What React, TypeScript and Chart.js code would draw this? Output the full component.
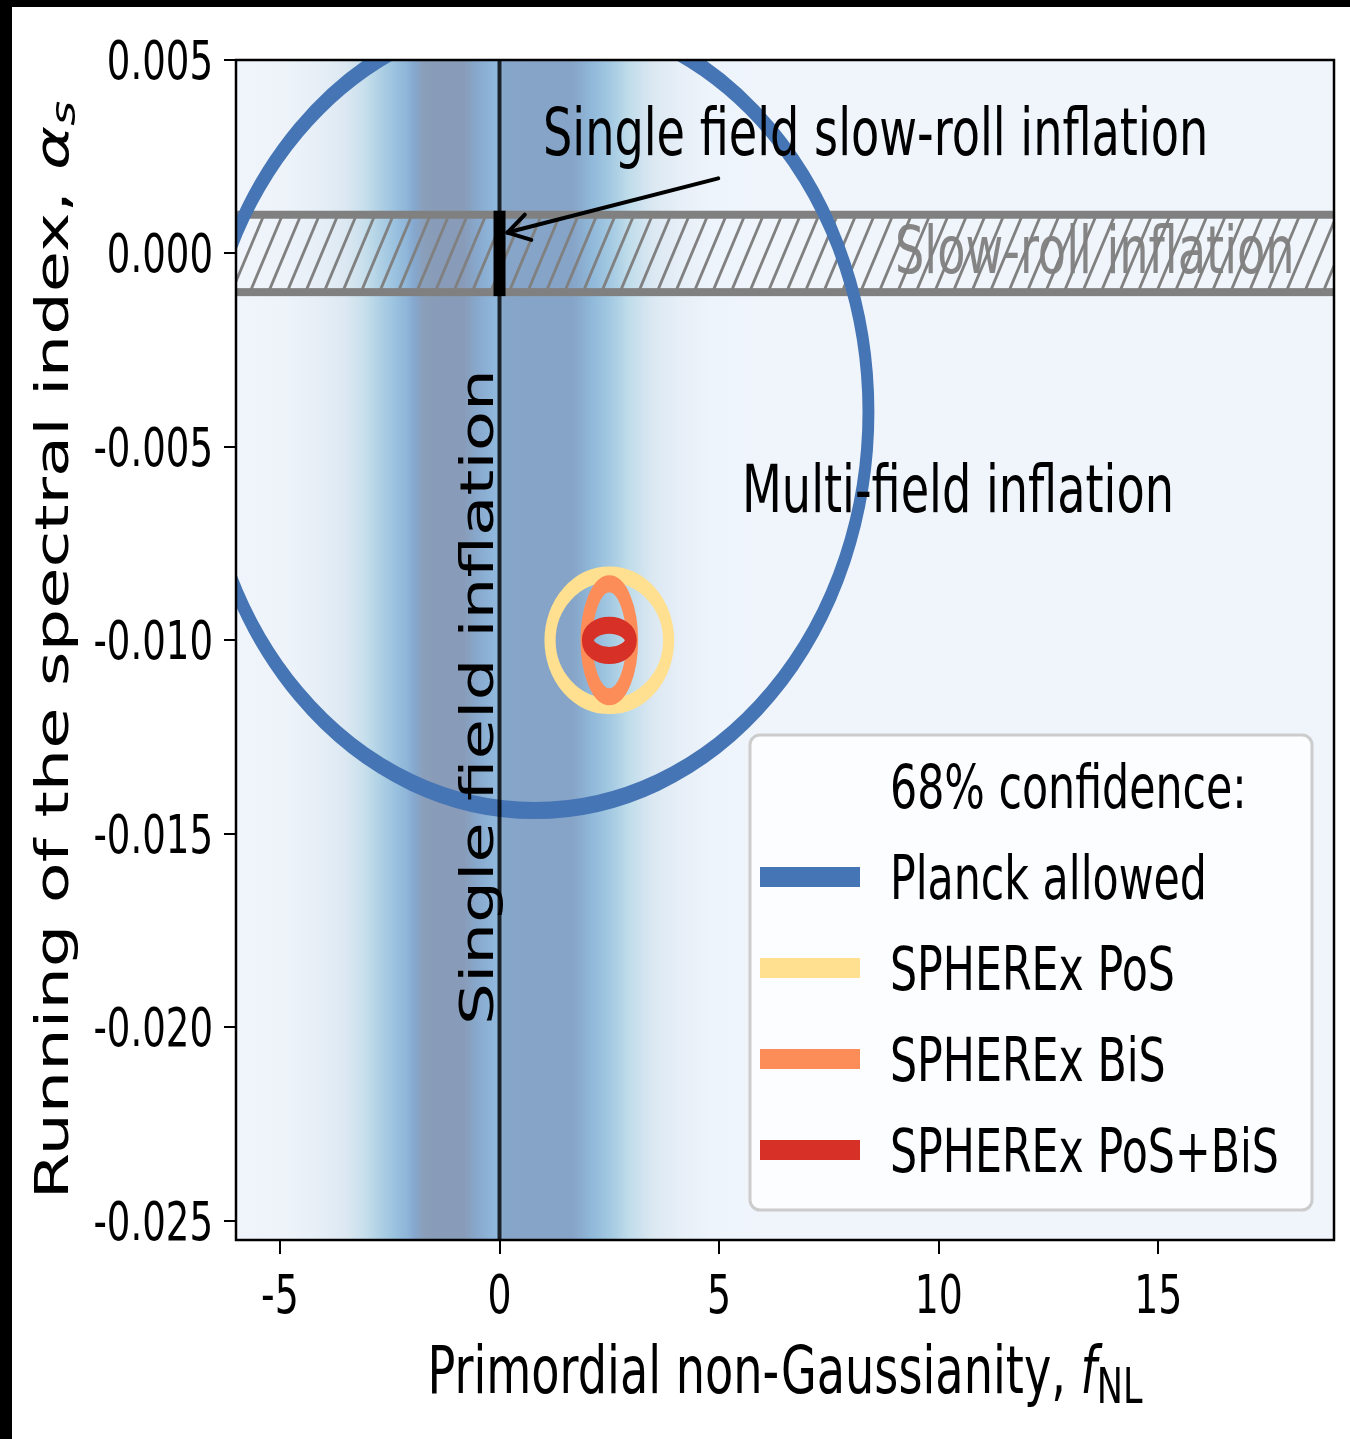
import React, { useEffect, useRef } from "react";
import { Chart, registerables } from "chart.js";

Chart.register(...registerables);

// ---------- data ----------
const xTicks = [-5, 0, 5, 10, 15];
const yTicks = [0.005, 0.0, -0.005, -0.01, -0.015, -0.02, -0.025];

const contourLabels = ["Planck allowed", "SPHEREx PoS", "SPHEREx BiS", "SPHEREx PoS+BiS"];
const centerFNL = [0.8, 2.5, 2.5, 2.5];
const centerAlpha = [-0.0041, -0.01, -0.01, -0.01];
const semiFNL = [7.6, 1.35, 0.52, 0.49];
const semiAlpha = [0.0103, 0.0017, 0.00146, 0.00039];
const contourColors = ["#4575b4", "#fee090", "#fc8d59", "#d73027"];

const slowRollBand = [-0.001, 0.001];

// background fNL likelihood shading (fNL position, colour)
const densityFNL = [-6, -4.84, -3.93, -3.48, -3.09, -2.8, -2.41, -2.11, -1.95, -1.73, -1.43, -0.82, -0.52, -0.14, 0.0, 0.09, 0.66, 1.66, 2.11, 2.57, 2.93, 3.48, 4.07, 4.84, 5.93, 19];
const densityColor = ["#f0f5fc", "#eef3fa", "#e4edf6", "#dbe7f1", "#c8e0ec", "#b4d4e6", "#9cc3e0", "#8fb5d8", "#85a8cf", "#8a9fba", "#889bb8", "#889bb8", "#87a8cc", "#8fb7db", "#90b8dc", "#86a6c9", "#86a4c7", "#86a4c7", "#90b9da", "#a6cbe3", "#bfdcea", "#dbe8f2", "#e6eef7", "#eef4fb", "#f0f5fc", "#f0f5fc"];

// ---------- styling ----------
const SQ = 0.7; // horizontal squeeze of the original figure
const FAM = "'DejaVu Sans', sans-serif";

type Part = { t: string; size: number; italic?: boolean; shift?: number };

function drawParts(ctx: CanvasRenderingContext2D, parts: Part[], x: number, y: number, align: "left" | "center" | "right", color: string, rotate = false) {
  ctx.save();
  ctx.translate(x, y);
  ctx.scale(SQ, 1);
  if (rotate) ctx.rotate(-Math.PI / 2);
  ctx.fillStyle = color;
  ctx.textBaseline = "alphabetic";
  ctx.textAlign = "left";
  const widths = parts.map((p) => {
    ctx.font = `${p.italic ? "italic " : ""}${p.size}px ${FAM}`;
    return ctx.measureText(p.t).width;
  });
  const total = widths.reduce((a, b) => a + b, 0);
  let cx = align === "left" ? 0 : align === "center" ? -total / 2 : -total;
  parts.forEach((p, i) => {
    ctx.font = `${p.italic ? "italic " : ""}${p.size}px ${FAM}`;
    ctx.fillText(p.t, cx, p.shift || 0);
    cx += widths[i];
  });
  ctx.restore();
}

function drawText(ctx: CanvasRenderingContext2D, t: string, x: number, y: number, size: number, align: "left" | "center" | "right", color = "#000", rotate = false) {
  drawParts(ctx, [{ t, size }], x, y, align, color, rotate);
}

const drawPlugin = {
  id: "figureDrawing",
  beforeDraw(chart: any) {
    const { ctx, chartArea: a, scales } = chart;
    const x = scales.x;
    ctx.save();
    ctx.fillStyle = "#ffffff";
    ctx.fillRect(0, 0, chart.width, chart.height);
    ctx.fillStyle = "#000000";
    ctx.fillRect(0, 0, chart.width, 7);
    ctx.fillRect(0, 0, 12, chart.height);
    const g = ctx.createLinearGradient(a.left, 0, a.right, 0);
    densityFNL.forEach((v, i) => {
      const t = (x.getPixelForValue(v) - a.left) / (a.right - a.left);
      g.addColorStop(Math.min(1, Math.max(0, t)), densityColor[i]);
    });
    ctx.fillStyle = g;
    ctx.fillRect(a.left, a.top, a.right - a.left, a.bottom - a.top);
    ctx.restore();
  },
  afterDatasetsDraw(chart: any) {
    const { ctx, chartArea: a, scales } = chart;
    const x = scales.x;
    const y = scales.y;
    ctx.save();
    ctx.beginPath();
    ctx.rect(a.left, a.top, a.right - a.left, a.bottom - a.top);
    ctx.clip();

    // slow-roll band
    const yTop = y.getPixelForValue(slowRollBand[1]);
    const yBot = y.getPixelForValue(slowRollBand[0]);
    drawText(ctx, "Slow-roll inflation", 895, 273, 66, "left", "#858585");
    ctx.save();
    ctx.beginPath();
    ctx.rect(a.left, yTop, a.right - a.left, yBot - yTop);
    ctx.clip();
    ctx.strokeStyle = "#808080";
    ctx.lineWidth = 2.8;
    const run = (yBot - yTop) * 0.42;
    for (let px = a.left - 60; px < a.right + 60; px += 18.5) {
      ctx.beginPath();
      ctx.moveTo(px, yBot);
      ctx.lineTo(px + run, yTop);
      ctx.stroke();
    }
    ctx.restore();
    ctx.fillStyle = "#808080";
    ctx.fillRect(a.left, yTop - 4, a.right - a.left, 8);
    ctx.fillRect(a.left, yBot - 4, a.right - a.left, 8);

    // contours
    const lws = [17, 16, 17, 17];
    const drawEllipse = (i: number) => {
      const cx = x.getPixelForValue(centerFNL[i]);
      const cy = y.getPixelForValue(centerAlpha[i]);
      const rx = Math.abs(x.getPixelForValue(centerFNL[i] + semiFNL[i]) - cx);
      const ry = Math.abs(y.getPixelForValue(centerAlpha[i] + semiAlpha[i]) - cy);
      ctx.save();
      ctx.translate(cx, cy);
      ctx.scale(SQ, 1);
      ctx.beginPath();
      ctx.ellipse(0, 0, rx / SQ, ry, 0, 0, Math.PI * 2);
      ctx.lineWidth = lws[i];
      ctx.strokeStyle = contourColors[i];
      ctx.stroke();
      ctx.restore();
    };
    drawEllipse(0);

    // single field line
    const x0 = x.getPixelForValue(0);
    ctx.strokeStyle = "rgba(0,0,0,0.82)";
    ctx.lineWidth = 4;
    ctx.beginPath();
    ctx.moveTo(x0, a.top);
    ctx.lineTo(x0, a.bottom);
    ctx.stroke();
    ctx.fillStyle = "#000";
    ctx.fillRect(x0 - 6, yTop - 4, 12, yBot - yTop + 8);

    drawEllipse(1);
    drawEllipse(2);
    drawEllipse(3);

    // arrow
    const tx = x.getPixelForValue(4.98), ty = y.getPixelForValue(0.00194);
    const hx = x.getPixelForValue(0.18), hy = y.getPixelForValue(0.00054);
    ctx.strokeStyle = "#000";
    ctx.lineWidth = 4;
    ctx.lineCap = "round";
    ctx.beginPath();
    ctx.moveTo(tx, ty);
    ctx.lineTo(hx, hy);
    ctx.stroke();
    const ang = Math.atan2(ty - hy, tx - hx);
    [0.55, -0.55].forEach((d) => {
      ctx.beginPath();
      ctx.moveTo(hx, hy);
      ctx.lineTo(hx + 25 * Math.cos(ang + d), hy + 25 * Math.sin(ang + d));
      ctx.stroke();
    });

    // annotations
    drawText(ctx, "Single field slow-roll inflation", 543, 155, 66, "left");
    drawText(ctx, "Multi-field inflation", 742, 512, 66, "left");
    drawText(ctx, "Single field inflation", 493, 1025, 66, "left", "#000", true);
    ctx.restore();

    // tick labels
    xTicks.forEach((v) => {
      drawText(ctx, String(v), x.getPixelForValue(v), 1313, 54, "center");
    });
    yTicks.forEach((v) => {
      drawText(ctx, v.toFixed(3), 213, y.getPixelForValue(v) + 19, 53, "right");
    });

    // axis titles
    drawParts(ctx, [
      { t: "Primordial non-Gaussianity, ", size: 66 },
      { t: "f", size: 66, italic: true },
      { t: "NL", size: 50, shift: 10 },
    ], (a.left + a.right) / 2, 1393, "center", "#000");
    drawParts(ctx, [
      { t: "Running of the spectral index, ", size: 67 },
      { t: "α", size: 67, italic: true },
      { t: "s", size: 48, italic: true, shift: 10 },
    ], 68, (a.top + a.bottom) / 2, "center", "#000", true);

    // legend
    const L = 750, T = 735, W = 562, H = 475, R = 10;
    ctx.save();
    ctx.beginPath();
    ctx.moveTo(L + R, T);
    ctx.arcTo(L + W, T, L + W, T + H, R);
    ctx.arcTo(L + W, T + H, L, T + H, R);
    ctx.arcTo(L, T + H, L, T, R);
    ctx.arcTo(L, T, L + W, T, R);
    ctx.closePath();
    ctx.fillStyle = "rgba(255,255,255,0.8)";
    ctx.fill();
    ctx.strokeStyle = "#cccccc";
    ctx.lineWidth = 3;
    ctx.stroke();
    ctx.restore();
    drawText(ctx, "68% confidence:", 890, 808, 61, "left");
    const rows = [877, 968, 1059, 1150];
    contourLabels.forEach((lab, i) => {
      ctx.fillStyle = contourColors[i];
      ctx.fillRect(760, rows[i] - 10, 100, 20);
      drawText(ctx, lab, 890, rows[i] + 22, 61, "left");
    });

    // spines
    ctx.save();
    ctx.strokeStyle = "#000";
    ctx.lineWidth = 2.5;
    ctx.strokeRect(a.left, a.top, a.right - a.left, a.bottom - a.top);
    ctx.restore();
  },
};

export default function App() {
  const ref = useRef<HTMLCanvasElement>(null);
  useEffect(() => {
    if (!ref.current) return;
    const chart = new Chart(ref.current, {
      type: "scatter",
      data: {
        datasets: contourLabels.map((l, i) => ({
          label: l,
          data: [{ x: centerFNL[i], y: centerAlpha[i] }],
          pointRadius: 0,
          borderColor: contourColors[i],
          backgroundColor: contourColors[i],
        })),
      },
      options: {
        responsive: false,
        animation: false,
        devicePixelRatio: 1,
        layout: { padding: { top: 60, right: 16, left: 0, bottom: 0 } },
        plugins: { legend: { display: false }, tooltip: { enabled: false } },
        scales: {
          x: {
            type: "linear",
            min: -6,
            max: 19,
            afterBuildTicks: (s: any) => { s.ticks = xTicks.map((v) => ({ value: v })); },
            afterFit: (s: any) => { s.height = 199; },
            grid: { drawOnChartArea: false, drawTicks: true, tickLength: 14, color: "#000", lineWidth: 2 },
            border: { display: false },
            ticks: { display: false },
          },
          y: {
            type: "linear",
            min: -0.0255,
            max: 0.005,
            afterBuildTicks: (s: any) => { s.ticks = yTicks.map((v) => ({ value: v })); },
            afterFit: (s: any) => { s.width = 236; },
            grid: { drawOnChartArea: false, drawTicks: true, tickLength: 12, color: "#000", lineWidth: 2 },
            border: { display: false },
            ticks: { display: false },
          },
        },
      } as any,
      plugins: [drawPlugin],
    });
    return () => chart.destroy();
  }, []);
  return (
    <div style={{ position: "absolute", left: 0, top: 0, width: 1350, height: 1439 }}>
      <canvas ref={ref} width={1350} height={1439} style={{ display: "block" }} />
    </div>
  );
}
